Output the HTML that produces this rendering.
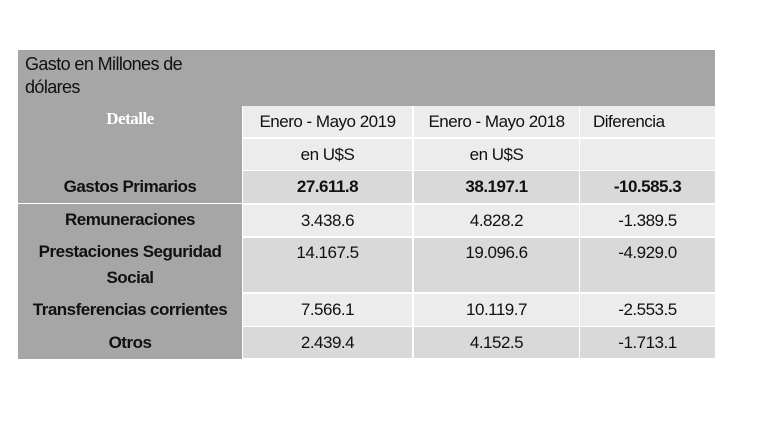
<!DOCTYPE html>
<html><head><meta charset="utf-8"><style>
body{margin:0;width:768px;height:432px;background:#fff;position:relative;overflow:hidden;font-family:"Liberation Sans",sans-serif;color:#111}
.c{position:absolute;box-sizing:border-box;display:flex;justify-content:center;font-size:17px;letter-spacing:-0.5px}
.g{background:#a6a6a6}
.d{background:#d9d9d9}
.l{background:#ececec}
.b{font-weight:bold}
</style></head><body>
<div class="c g" style="left:18px;top:50px;width:697px;height:56px"></div>
<div class="c" style="left:25px;top:53px;width:230px;font-size:18px;line-height:23px;justify-content:flex-start;letter-spacing:-0.6px">Gasto en Millones de<br>dólares</div>
<div class="c g" style="left:18px;top:105px;width:224px;height:254px"></div>
<div class="c" style="left:18px;top:109px;width:224px;font-family:'Liberation Serif',serif;font-weight:bold;color:#fff;font-size:17px">Detalle</div>
<div class="c l" style="left:243px;top:106px;width:169px;height:31px;align-items:center">Enero - Mayo 2019</div>
<div class="c l" style="left:414px;top:106px;width:165px;height:31px;align-items:center">Enero - Mayo 2018</div>
<div class="c l" style="left:580px;top:106px;width:135px;height:31px;align-items:center;justify-content:flex-start;padding-left:13px">Diferencia</div>
<div class="c l" style="left:243px;top:139px;width:169px;height:31px;align-items:center">en U$S</div>
<div class="c l" style="left:414px;top:139px;width:165px;height:31px;align-items:center">en U$S</div>
<div class="c l" style="left:580px;top:139px;width:135px;height:31px"></div>

<div class="c b" style="left:18px;top:171px;width:224px;height:32px;align-items:center">Gastos Primarios</div>
<div class="c d b" style="left:243px;top:171px;width:169px;height:32px;align-items:center">27.611.8</div>
<div class="c d b" style="left:414px;top:171px;width:165px;height:32px;align-items:center">38.197.1</div>
<div class="c d b" style="left:580px;top:171px;width:135px;height:32px;align-items:center">-10.585.3</div>

<div style="position:absolute;left:18px;top:203px;width:224px;height:1px;background:#fff"></div>
<div class="c b" style="left:18px;top:204px;width:224px;height:32px;align-items:center">Remuneraciones</div>
<div class="c l" style="left:243px;top:205px;width:169px;height:31px;align-items:center">3.438.6</div>
<div class="c l" style="left:414px;top:205px;width:165px;height:31px;align-items:center">4.828.2</div>
<div class="c l" style="left:580px;top:205px;width:135px;height:31px;align-items:center">-1.389.5</div>

<div class="c b" style="left:18px;top:239px;width:224px;height:54px;text-align:center;line-height:26px">Prestaciones Seguridad<br>Social</div>
<div class="c d" style="left:243px;top:238px;width:169px;height:54px;padding-top:5px">14.167.5</div>
<div class="c d" style="left:414px;top:238px;width:165px;height:54px;padding-top:5px">19.096.6</div>
<div class="c d" style="left:580px;top:238px;width:135px;height:54px;padding-top:5px">-4.929.0</div>

<div class="c b" style="left:18px;top:294px;width:224px;height:32px;align-items:center">Transferencias corrientes</div>
<div class="c l" style="left:243px;top:294px;width:169px;height:32px;align-items:center">7.566.1</div>
<div class="c l" style="left:414px;top:294px;width:165px;height:32px;align-items:center">10.119.7</div>
<div class="c l" style="left:580px;top:294px;width:135px;height:32px;align-items:center">-2.553.5</div>

<div class="c b" style="left:18px;top:327px;width:224px;height:31px;align-items:center">Otros</div>
<div class="c d" style="left:243px;top:327px;width:169px;height:31px;align-items:center">2.439.4</div>
<div class="c d" style="left:414px;top:327px;width:165px;height:31px;align-items:center">4.152.5</div>
<div class="c d" style="left:580px;top:327px;width:135px;height:31px;align-items:center">-1.713.1</div>
</body></html>
